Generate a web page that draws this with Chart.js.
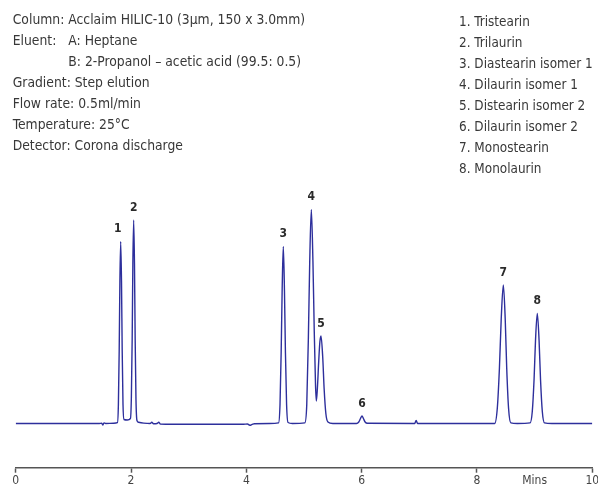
<!DOCTYPE html>
<html>
<head>
<meta charset="utf-8">
<style>
  html, body { margin: 0; padding: 0; background: #fff; }
</style>
<script src="https://cdn.jsdelivr.net/npm/chart.js@4.4.1/dist/chart.umd.min.js"></script>
</head>
<body>
<canvas id="chrom" width="598" height="487"></canvas>
<script>
const tiempos = [
  0.00, 1.45, 1.49, 1.51, 1.53, 1.56, 1.70,
  1.764, 1.781, 1.795, 1.807, 1.821, 1.835, 1.847, 1.861, 1.878, 1.935,
  1.99, 2.006, 2.020, 2.032, 2.046, 2.060, 2.072, 2.086, 2.103,
  2.13, 2.22, 2.33, 2.36, 2.39, 2.45, 2.48, 2.51, 2.60,
  3.95, 4.02, 4.06, 4.10, 4.14, 4.40,
  4.559, 4.584, 4.604, 4.621, 4.641, 4.661, 4.678, 4.698, 4.723, 4.80,
  5.014, 5.048, 5.076, 5.099, 5.127, 5.155, 5.178, 5.200, 5.214,
  5.232, 5.255, 5.276, 5.295, 5.325, 5.349, 5.379, 5.415, 5.50,
  5.91, 5.95, 5.98, 6.006, 6.03, 6.06, 6.10,
  6.92, 6.945, 6.97,
  8.307, 8.352, 8.389, 8.420, 8.457, 8.490, 8.516, 8.548, 8.587, 8.70,
  8.921, 8.959, 8.990, 9.015, 9.046, 9.077, 9.102, 9.133, 9.171, 9.30,
  10.00,
];
const senal = [
  0, 0, 0.3, -1.5, 0.6, 0, 0.3,
  0.8, 19, 73, 142, 182, 142, 73, 19, 4, 3.5,
  5, 26, 84, 160, 203.5, 160, 84, 24, 3,
  1.2, 0.4, 0, 1.2, -0.3, 0, 1.2, -0.6, -0.7,
  -0.7, -0.5, -1.8, -0.9, -0.2, 0,
  0.6, 19, 71, 133, 177, 133, 71, 19, 1, 0,
  0.6, 19, 86, 161, 214, 162, 92, 38, 22.5,
  35, 62, 82, 87.5, 66, 35, 10, 1.5, 0,
  0, 1.5, 5, 7.5, 5, 1.5, 0.2,
  0, 3, 0,
  0, 15, 55, 104, 138.5, 104, 55, 15, 0.6, 0,
  0.6, 12, 44, 83, 110, 83, 44, 12, 0.6, 0,
  0,
];

// Picos numerados
const picoNum = ['1', '2', '3', '4', '5', '6', '7', '8'];
const picoTiempo = [1.821, 2.046, 4.641, 5.127, 5.295, 6.006, 8.457, 9.046];
const picoAltura = [182, 203.5, 177, 214, 87.5, 7.5, 138.5, 110];

// Eje X
const xMin = 0, xMax = 10;
const xEtiquetas = [0, 2, 4, 6, 8, 10];
const xUnidad = 'Mins';
const xUnidadPos = 9;

// Textos
const condiciones = [
  'Column:\tAcclaim HILIC-10 (3µm, 150 x 3.0mm)',
  'Eluent:\tA: Heptane',
  '\tB: 2-Propanol – acetic acid (99.5: 0.5)',
  'Gradient: Step elution',
  'Flow rate: 0.5ml/min',
  'Temperature: 25°C',
  'Detector: Corona discharge',
];
const compuestos = [
  '1. Tristearin',
  '2. Trilaurin',
  '3. Diastearin isomer 1',
  '4. Dilaurin isomer 1',
  '5. Distearin isomer 2',
  '6. Dilaurin isomer 2',
  '7. Monostearin',
  '8. Monolaurin',
];

const FAMILIA = "'Liberation Sans Narrow', 'DejaVu Sans Condensed', 'Liberation Sans', sans-serif";
const GRIS = '#383838';
const ESTRECHO = 0.95; // el original usa una Helvetica condensada

// Texto condensado: se escala en horizontal
function texto(ctx, s, x, y, sx) {
  ctx.save();
  ctx.translate(x, y);
  ctx.scale(sx, 1);
  ctx.fillText(s, 0, 0);
  ctx.restore();
}

const cabecera = {
  id: 'cabecera',
  afterDraw(chart) {
    const { ctx } = chart;
    ctx.save();
    ctx.fillStyle = GRIS;
    ctx.textBaseline = 'middle';
    ctx.textAlign = 'left';
    ctx.font = `14.5px ${FAMILIA}`;
    condiciones.forEach((l, i) => {
      const y = 20.7 + i * 21;
      const [a, b] = l.split('\t');
      if (b === undefined) { texto(ctx, a, 12.7, y, ESTRECHO); return; }
      if (a) texto(ctx, a, 12.7, y, ESTRECHO);
      texto(ctx, b, 68.3, y, ESTRECHO);
    });
    compuestos.forEach((l, i) => texto(ctx, l, 459, 22 + i * 21, 0.925));
    ctx.restore();
  },
};

const etiquetasPico = {
  id: 'etiquetasPico',
  afterDatasetsDraw(chart) {
    const { ctx, scales: { x, y } } = chart;
    const ajuste = { 0: -3 };
    ctx.save();
    ctx.fillStyle = '#2a2a2a';
    ctx.font = `bold 12px ${FAMILIA}`;
    ctx.textAlign = 'center';
    ctx.textBaseline = 'middle';
    picoNum.forEach((n, i) => {
      const px = x.getPixelForValue(picoTiempo[i]) + (ajuste[i] || 0);
      const py = y.getPixelForValue(picoAltura[i]) - 12.5;
      ctx.fillText(n, px, py);
    });
    ctx.restore();
  },
};

new Chart(document.getElementById('chrom'), {
  type: 'line',
  data: {
    datasets: [{
      data: tiempos.map((t, i) => ({ x: t, y: senal[i] })),
      borderColor: '#2d2f9c',
      borderWidth: 1.4,
      pointRadius: 0,
      fill: false,
      cubicInterpolationMode: 'monotone',
    }],
  },
  options: {
    responsive: false,
    animation: false,
    layout: { padding: { top: 180, left: 15.7, right: 5.7, bottom: 0 } },
    plugins: { legend: { display: false }, tooltip: { enabled: false } },
    scales: {
      x: {
        type: 'linear', min: xMin, max: xMax,
        afterFit: (s) => { s.height = 19.3; s.paddingLeft = 0; s.paddingRight = 0; },
        border: { display: true, color: '#555', width: 1.5 },
        grid: {
          drawOnChartArea: false, drawTicks: true, tickLength: 5, tickWidth: 1.5,
          tickColor: (c) => (xEtiquetas.includes(c.tick.value) ? '#555' : 'rgba(0,0,0,0)'),
        },
        ticks: {
          stepSize: 1, autoSkip: false, maxRotation: 0, padding: 1,
          color: '#444', font: { family: FAMILIA, size: 12 },
          callback: (v) => (xEtiquetas.includes(v) ? String(v) : v === xUnidadPos ? xUnidad : ''),
        },
      },
      y: { display: false, min: -44.2, max: 243.5 },
    },
  },
  plugins: [cabecera, etiquetasPico],
});
</script>
</body>
</html>
